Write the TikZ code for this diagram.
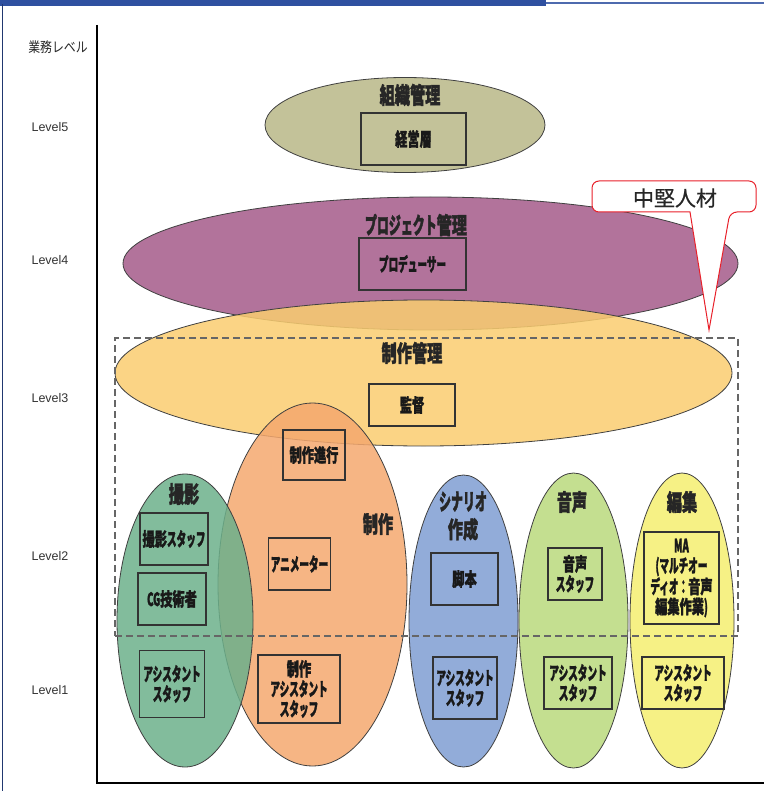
\documentclass[tikz,border=0pt]{standalone}
\usepackage{fontspec}
\setmainfont{Liberation Sans}
\newfontfamily\jpB[FakeStretch=0.66, FakeBold=1.5]{Noto Sans CJK JP}
\newfontfamily\jpK[FakeStretch=0.52, FakeBold=1.5]{Noto Sans CJK JP}
\newfontfamily\jpN[FakeStretch=0.85]{Noto Sans CJK JP}
\newfontfamily\jpC[FakeBold=0.6]{Noto Sans CJK JP}
\newcommand\kata[1]{{\jpK #1}}
\usetikzlibrary{shapes.geometric}
\definecolor{khaki}{HTML}{B9B787}
\definecolor{purp}{HTML}{A45A8A}
\definecolor{yorange}{HTML}{FACD70}
\definecolor{orng}{HTML}{F5A86E}
\definecolor{teal2}{HTML}{6CB08B}
\definecolor{blue2}{HTML}{7F9DD2}
\definecolor{lime2}{HTML}{BAD97C}
\definecolor{yell2}{HTML}{F4EE70}
\definecolor{barblue}{HTML}{2F50A0}
\definecolor{callred}{HTML}{E8202A}
\tikzset{
  ell/.style={ellipse, draw=black!75, line width=0.8pt, inner sep=0pt, fill opacity=0.85},
  ttl/.style={font=\jpB\bfseries\fontsize{23}{28}\selectfont, text=black!85, align=center, inner sep=0pt},
  stbox/.style={draw=black!80, line width=1.2pt, inner sep=0pt, align=center,
     font=\jpB\bfseries\fontsize{18.5}{20}\selectfont, text=black!90},
  lvl/.style={font=\fontsize{12.5}{14}\selectfont, text=black!80, inner sep=0pt},
}
\begin{document}
\begin{tikzpicture}[x=1pt,y=-1pt]
\useasboundingbox (0,0) rectangle (764,791);
% frame decorations
\fill[barblue] (0,0) rectangle (546,6);
\draw[barblue!85, line width=1.2pt] (546,3) -- (764,3);
\draw[barblue!70!black, line width=0.8pt] (2,4) -- (2,791);
% axes
\coordinate (ytop) at (97,25);
\coordinate (origin) at (97,783);
\coordinate (xend) at (764,783);
\draw[line width=2pt] (ytop) -- (origin) -- (xend);
\node[font=\jpN\fontsize{14}{16}\selectfont, text=black!85, inner sep=0pt] (axl) at (58,47) {業務レベル};
\node[lvl] (l5) at (50,127) {Level5};
\node[lvl] (l4) at (50,260) {Level4};
\node[lvl] (l3) at (50,398) {Level3};
\node[lvl] (l2) at (50,556) {Level2};
\node[lvl] (l1) at (50,690) {Level1};
% upper ellipses
\node[ell, fill=khaki, minimum width=280, minimum height=95] (e5) at (405,125) {};
\node[ell, fill=purp, minimum width=615, minimum height=133] (e4) at (430.5,263.5) {};
\node[ell, fill=yorange, minimum width=617, minimum height=146] (e3) at (423.5,373) {};
% callout
\coordinate (tip) at (709,330);
\draw[callred, line width=1pt, fill=white] (592,196) [rounded corners=7pt] -- (592,181) -- (756,181) -- (756,212) -- (730,212) [sharp corners] -- (tip) -- (690,212) [rounded corners=7pt] -- (592,212) -- cycle;
\node[font=\jpC\fontsize{21}{24}\selectfont, text=black!85, inner sep=0pt] (cw) at (675,198) {中堅人材};
% lower ellipses
\node[ell, fill=orng, minimum width=189, minimum height=363] (eP) at (312.5,584.5) {};
\node[ell, fill=teal2, minimum width=136, minimum height=293] (eS) at (185,620.5) {};
\node[ell, fill=blue2, minimum width=109, minimum height=292] (eW) at (463.5,621) {};
\node[ell, fill=lime2, minimum width=109, minimum height=295] (eA) at (573.5,620.5) {};
\node[ell, fill=yell2, minimum width=104, minimum height=295] (eE) at (682,620.5) {};
% dashed middle-level frame
\node[draw=black!60, dashed, dash pattern=on 7pt off 4pt, line width=1.6pt, minimum width=623, minimum height=298, inner sep=0pt] (mid) at (426.5,487) {};
% titles
\node[ttl] (t5) at (410,95) {組織管理};
\node[ttl] (t4) at (416,225) {\kata{プロジェクト}管理};
\node[ttl] (t3) at (412,353) {制作管理};
\node[ttl] (tP) at (378,524) {制作};
\node[ttl] (tS) at (184,494) {撮影};
\node[ttl] (tW) at (463,516) {\kata{シナリオ}\\作成};
\node[ttl] (tA) at (572,502) {音声};
\node[ttl] (tE) at (682,502) {編集};
% boxes
\node[stbox, minimum width=105, minimum height=52] (b5) at (413.5,139) {経営層};
\node[stbox, minimum width=107, minimum height=52] (b4) at (412.5,264) {\kata{プロデューサー}};
\node[stbox, minimum width=86, minimum height=42] (b3) at (412,405) {監督};
\node[stbox, minimum width=62, minimum height=50] (bP1) at (314,455) {制作進行};
\node[stbox, minimum width=62, minimum height=52] (bP2) at (299.5,564) {\kata{アニメーター}};
\node[stbox, minimum width=82, minimum height=68] (bP3) at (299,689) {制作\\\kata{アシスタント}\\\kata{スタッフ}};
\node[stbox, minimum width=68, minimum height=52] (bS1) at (174,539) {撮影\kata{スタッフ}};
\node[stbox, minimum width=68, minimum height=52] (bS2) at (172,599) {\kata{CG}技術者};
\node[stbox, minimum width=65, minimum height=67] (bS3) at (172,684) {\kata{アシスタント}\\\kata{スタッフ}};
\node[stbox, minimum width=67, minimum height=52] (bW1) at (464.5,579) {脚本};
\node[stbox, minimum width=64, minimum height=62] (bW2) at (465,688) {\kata{アシスタント}\\\kata{スタッフ}};
\node[stbox, minimum width=54, minimum height=52] (bA1) at (575,574) {音声\\\kata{スタッフ}};
\node[stbox, minimum width=68, minimum height=52] (bA2) at (578,683) {\kata{アシスタント}\\\kata{スタッフ}};
\node[stbox, minimum width=75, minimum height=92] (bE1) at (681.5,578) {\kata{MA}\\\kata{(マルチオー}\\\kata{ディオ：}音声\\編集作業\kata{)}};
\node[stbox, minimum width=82, minimum height=52] (bE2) at (683,683) {\kata{アシスタント}\\\kata{スタッフ}};
\end{tikzpicture}
\end{document}
